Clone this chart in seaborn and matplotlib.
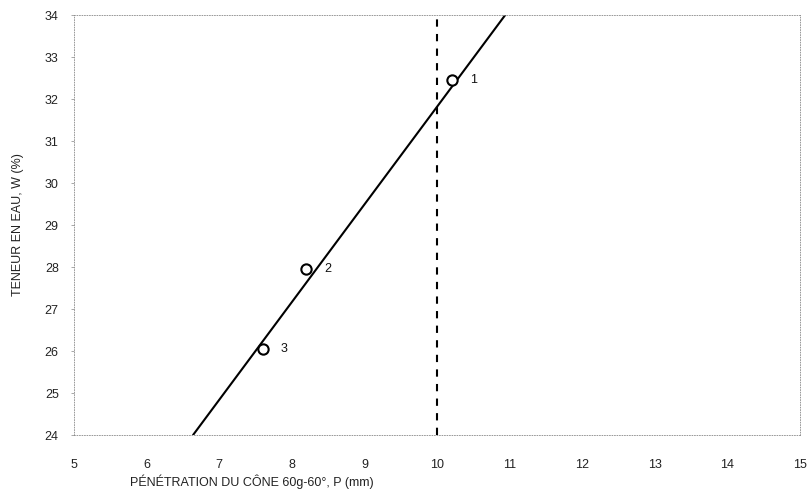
import matplotlib
matplotlib.use("Agg")
import matplotlib.pyplot as plt
import seaborn as sns
import pandas as pd

# Data
point_ids = ["1", "2", "3"]
penetration = [10.2, 8.2, 7.6]
water = [32.45, 27.95, 26.05]
fit_x = [6.64, 10.94]
fit_y = [24.0, 34.0]
ref_x = 10.0
x_ticks = list(range(5, 16))
y_ticks = list(range(24, 35))

sns.set_theme(style="white")
plt.rcParams["font.family"] = ["Liberation Sans", "DejaVu Sans"]

fig = plt.figure(figsize=(8.11, 4.93), dpi=100)
ax = fig.add_axes([74/811, 1-435/493, (800-74)/811, (435-15)/493])

df_fit = pd.DataFrame({"x": fit_x, "y": fit_y})
sns.lineplot(data=df_fit, x="x", y="y", ax=ax, color="black", linewidth=1.5)
ax.axvline(ref_x, color="black", linestyle=(0, (3.5, 3.5)), linewidth=1.5)

df_pts = pd.DataFrame({"x": penetration, "y": water, "id": point_ids})
sns.scatterplot(data=df_pts, x="x", y="y", ax=ax, marker="o", s=55,
                facecolor="white", edgecolor="black", linewidth=1.5, zorder=5)
for px, py, lab in zip(penetration, water, point_ids):
    ax.annotate(lab, (px, py), xytext=(13, 0), textcoords="offset points",
                ha="left", va="center", fontsize=9, color="#111111")

ax.set_xlim(5, 15)
ax.set_ylim(24, 34)
ax.set_xticks(x_ticks)
ax.set_yticks(y_ticks)
ax.tick_params(axis="both", labelsize=9, colors="#222222")
ax.tick_params(axis="y", length=2, width=0.6, color="#999999", left=True, pad=9)
ax.tick_params(axis="x", length=0, pad=17)

for sp in ax.spines.values():
    sp.set_linestyle((0, (1, 2)))
    sp.set_color("#888888")
    sp.set_linewidth(0.6)

ax.set_ylabel("TENEUR EN EAU, W (%)", fontsize=9, color="#222222")
ax.yaxis.set_label_coords(-0.069, 0.5)
ax.set_xlabel("PÉNÉTRATION DU CÔNE 60g-60°, P (mm)", fontsize=9, color="#222222", loc="left")
ax.xaxis.set_label_coords((130-74)/726, -0.093)

fig.savefig("out.png", dpi=100)
